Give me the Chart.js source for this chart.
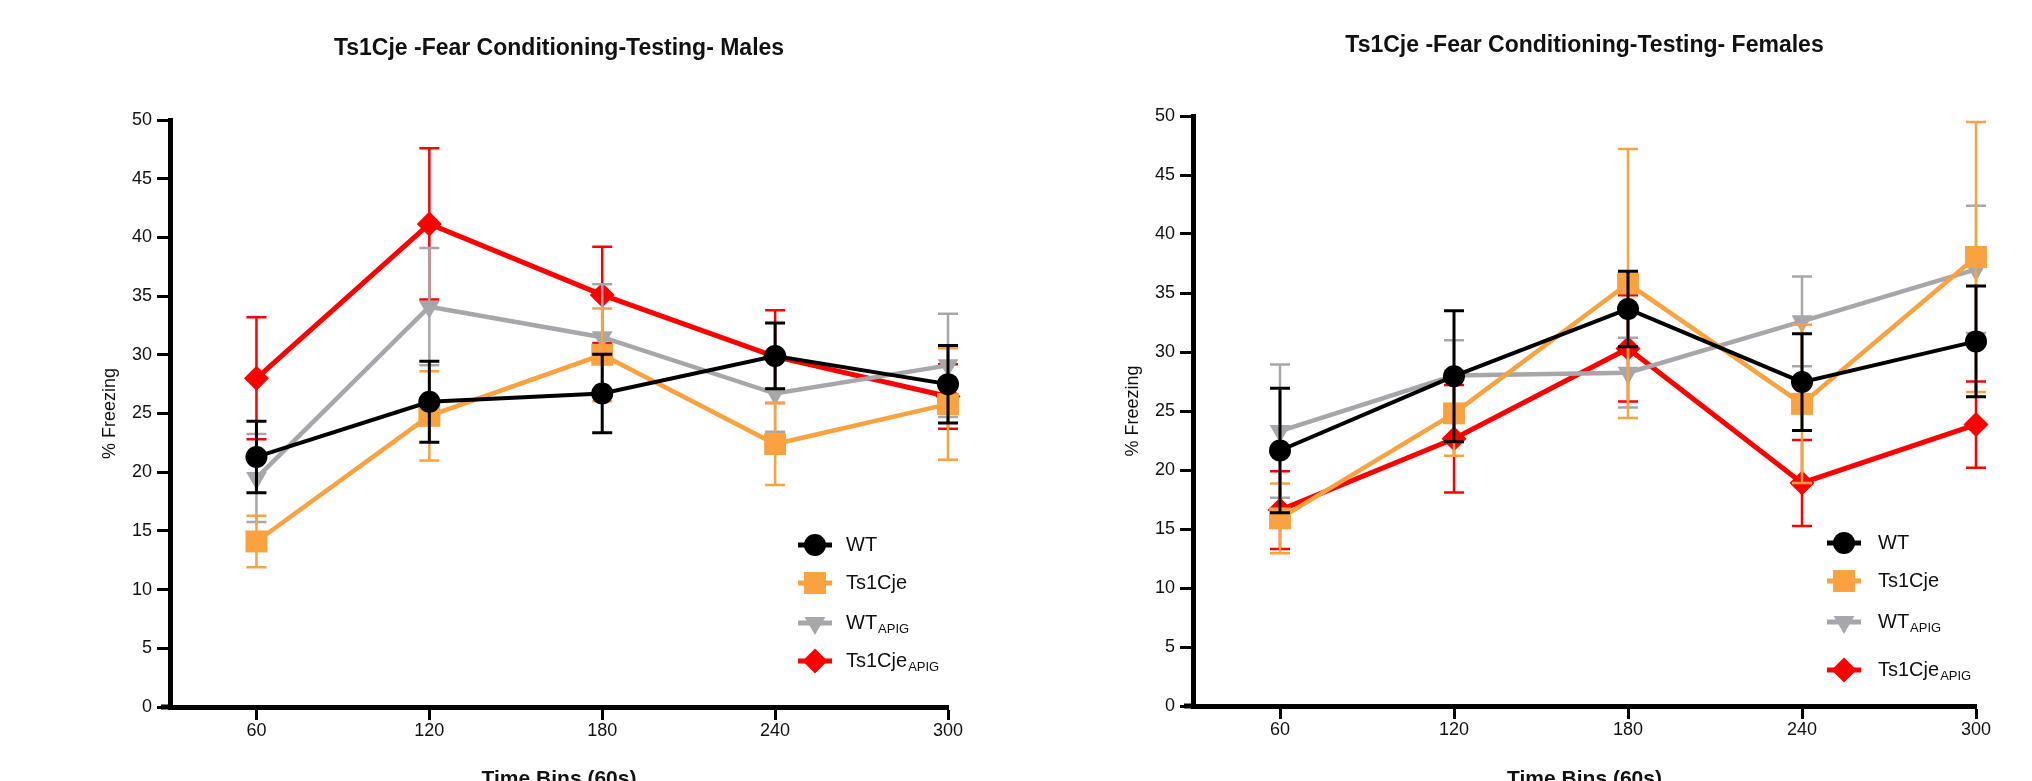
<!DOCTYPE html>
<html>
<head>
<meta charset="utf-8">
<script src="https://cdn.jsdelivr.net/npm/chart.js@4.4.1/dist/chart.umd.min.js"></script>
<style>
    html, body { margin: 0; padding: 0; background: #fff; overflow: hidden; }
    #wrap { position: relative; width: 2032px; height: 781px; overflow: hidden; background: #fff; }
    canvas { position: absolute; top: 0; }
    #males { left: 0; }
    #females { left: 1016px; }
</style>
</head>
<body>
<div id="wrap">
    <canvas id="males" width="1016" height="800"></canvas>
    <canvas id="females" width="1016" height="800"></canvas>
</div>
<script>
// x categories (time bins, s) and y tick labels
const timeBins = [60, 120, 180, 240, 300];
const yTickValues = [0, 5, 10, 15, 20, 25, 30, 35, 40, 45, 50];

// groups, in legend order
const groupNames = ['WT', 'Ts1Cje', 'WT', 'Ts1Cje'];
const groupSubs = ['', '', 'APIG', 'APIG'];

// males: mean % freezing and SEM
const malesWT = [21.3, 26.0, 26.7, 29.9, 27.5];
const malesWTSem = [3.05, 3.45, 3.35, 2.8, 3.3];
const malesTs = [14.1, 24.8, 30.0, 22.4, 25.8];
const malesTsSem = [2.2, 3.8, 3.95, 3.5, 4.75];
const malesWTApig = [19.5, 34.1, 31.5, 26.7, 29.1];
const malesWTApigSem = [3.75, 5.0, 4.5, 3.25, 4.4];
const malesTsApig = [28.0, 41.15, 35.1, 29.85, 26.45];
const malesTsApigSem = [5.2, 6.45, 4.1, 3.95, 2.75];

// females: mean % freezing and SEM
const femalesWT = [21.65, 27.95, 33.65, 27.45, 30.9];
const femalesWTSem = [5.27, 5.55, 3.2, 4.1, 4.7];
const femalesTs = [15.9, 24.8, 35.8, 25.6, 38.05];
const femalesTsSem = [2.95, 3.6, 11.4, 6.7, 11.45];
const femalesWTApig = [23.3, 28.0, 28.25, 32.6, 37.0];
const femalesWTApigSem = [5.65, 3.0, 2.95, 3.8, 5.4];
const femalesTsApig = [16.6, 22.65, 30.3, 18.9, 23.85];
const femalesTsApigSem = [3.3, 4.55, 4.5, 3.65, 3.65];

// look of each group
const groupColors = ['#000000', '#F9A23F', '#A7A7AB', '#FF0000'];
const pointStyles = ['circle', 'rect', 'triangle', 'rectRot'];
const pointRotations = [0, 0, 180, 0];
const pointRadii = [11, 15.5, 12, 12.5];
const lineWidths = [4, 4.5, 4.5, 5];
const errorWidths = [3, 2.5, 2.5, 2.5];

const FONT = '"Liberation Sans", Arial, sans-serif';
Chart.defaults.font.family = FONT;
Chart.defaults.color = '#111';

// title centred over the plot, plus the short stub of x axis left of the y axis
const plotTitle = {
    id: 'plotTitle',
    afterDraw(chart, args, opts) {
        const { ctx, chartArea } = chart;
        ctx.save();
        ctx.strokeStyle = '#000';
        ctx.lineWidth = 5;
        ctx.beginPath();
        ctx.moveTo(chartArea.left - 9, chartArea.bottom);
        ctx.lineTo(chartArea.left, chartArea.bottom);
        ctx.stroke();
        ctx.font = 'bold 23px ' + FONT;
        ctx.fillStyle = '#111';
        ctx.textAlign = 'center';
        ctx.textBaseline = 'middle';
        ctx.fillText(opts.text, (chartArea.left + chartArea.right) / 2, opts.y);
        ctx.restore();
    }
};

// SEM bars, drawn just before each line so the stacking follows the datasets
const errorBars = {
    id: 'errorBars',
    beforeDatasetDraw(chart, args) {
        const ds = chart.data.datasets[args.index];
        if (!ds.errors) return;
        const yScale = chart.scales.y;
        const ctx = chart.ctx;
        const cap = 10;
        ctx.save();
        ctx.strokeStyle = ds.borderColor;
        ctx.lineWidth = ds.errorWidth;
        ds.data.forEach((pt, j) => {
            const x = args.meta.data[j].x;
            const yHi = yScale.getPixelForValue(pt.y + ds.errors[j]);
            const yLo = yScale.getPixelForValue(pt.y - ds.errors[j]);
            ctx.beginPath();
            ctx.moveTo(x, yHi);
            ctx.lineTo(x, yLo);
            ctx.moveTo(x - cap, yHi);
            ctx.lineTo(x + cap, yHi);
            ctx.moveTo(x - cap, yLo);
            ctx.lineTo(x + cap, yLo);
            ctx.stroke();
        });
        ctx.restore();
    }
};

// legend with subscripts, placed inside the plot like the original
const sideLegend = {
    id: 'sideLegend',
    afterDraw(chart, args, opts) {
        const ctx = chart.ctx;
        chart.data.datasets.forEach((ds, i) => {
            const y = opts.rows[i];
            ctx.save();
            ctx.strokeStyle = ds.borderColor;
            ctx.fillStyle = ds.borderColor;
            ctx.lineWidth = 5;
            ctx.beginPath();
            ctx.moveTo(opts.x - 17, y);
            ctx.lineTo(opts.x + 17, y);
            ctx.stroke();
            Chart.helpers.drawPoint(ctx, {
                pointStyle: ds.pointStyle,
                rotation: ds.pointRotation,
                radius: ds.pointRadius,
                borderWidth: 0
            }, opts.x, y);
            ctx.fillStyle = '#111';
            ctx.font = '20px ' + FONT;
            ctx.textAlign = 'left';
            ctx.textBaseline = 'middle';
            ctx.fillText(ds.name, opts.textX, y);
            if (ds.sub) {
                const w = ctx.measureText(ds.name).width;
                ctx.font = '13px ' + FONT;
                ctx.fillText(ds.sub, opts.textX + w + 1, y + 6);
            }
            ctx.restore();
        });
    }
};

function makeDatasets(values, sems) {
    return values.map((vals, i) => ({
        label: groupNames[i] + groupSubs[i],
        name: groupNames[i],
        sub: groupSubs[i],
        data: timeBins.map((t, j) => ({ x: t, y: vals[j] })),
        errors: sems[i],
        borderColor: groupColors[i],
        backgroundColor: groupColors[i],
        borderWidth: lineWidths[i],
        pointStyle: pointStyles[i],
        pointRotation: pointRotations[i],
        pointRadius: pointRadii[i],
        pointHoverRadius: pointRadii[i],
        pointBorderWidth: 0,
        errorWidth: errorWidths[i],
        tension: 0,
        clip: false
    }));
}

function axisGrid() {
    return { display: true, drawOnChartArea: false, drawTicks: true, tickLength: 13, tickWidth: 3, tickColor: '#000' };
}

function makeChart(id, titleText, values, sems, box) {
    const canvas = document.getElementById(id);
    const W = canvas.width;
    const H = canvas.height;
    return new Chart(canvas, {
        type: 'line',
        data: { datasets: makeDatasets(values, sems) },
        options: {
            responsive: false,
            animation: false,
            devicePixelRatio: 1,
            layout: { padding: { left: 0, top: box.top, right: W - box.right, bottom: 0 } },
            plugins: {
                legend: { display: false },
                tooltip: { enabled: false },
                title: { display: false },
                plotTitle: { text: titleText, y: box.titleY },
                sideLegend: { x: box.legendX, textX: box.legendTextX, rows: box.legendRows }
            },
            scales: {
                x: {
                    type: 'linear',
                    min: 30,
                    max: 300,
                    afterBuildTicks: s => { s.ticks = timeBins.map(v => ({ value: v })); },
                    afterFit: s => { s.height = H - box.bottom; },
                    grid: axisGrid(),
                    border: { display: true, color: '#000', width: 5 },
                    ticks: { color: '#111', font: { size: 18 }, padding: 0, maxRotation: 0 },
                    title: {
                        display: true,
                        text: 'Time Bins (60s)',
                        color: '#111',
                        font: { size: 21, weight: 'bold' },
                        padding: { top: 0, bottom: 8 }
                    }
                },
                y: {
                    min: 0,
                    max: 50,
                    afterBuildTicks: s => { s.ticks = yTickValues.map(v => ({ value: v })); },
                    afterFit: s => { s.width = box.left; },
                    grid: axisGrid(),
                    border: { display: true, color: '#000', width: 5 },
                    ticks: { color: '#111', font: { size: 18 }, padding: 5 },
                    title: {
                        display: true,
                        text: '% Freezing',
                        color: '#111',
                        font: { size: 18 },
                        padding: { top: box.yTitleX - 10.8, bottom: 0 }
                    }
                }
            }
        },
        plugins: [plotTitle, errorBars, sideLegend]
    });
}

makeChart('males', 'Ts1Cje -Fear Conditioning-Testing- Males',
    [malesWT, malesTs, malesWTApig, malesTsApig],
    [malesWTSem, malesTsSem, malesWTApigSem, malesTsApigSem],
    { left: 170, top: 120, right: 948, bottom: 707, titleY: 49, yTitleX: 110,
      legendX: 815, legendTextX: 846, legendRows: [545, 583, 623, 661] });

makeChart('females', 'Ts1Cje -Fear Conditioning-Testing- Females',
    [femalesWT, femalesTs, femalesWTApig, femalesTsApig],
    [femalesWTSem, femalesTsSem, femalesWTApigSem, femalesTsApigSem],
    { left: 177, top: 116, right: 960, bottom: 706, titleY: 46, yTitleX: 117,
      legendX: 828, legendTextX: 862, legendRows: [543, 581, 622, 670] });
</script>
</body>
</html>
